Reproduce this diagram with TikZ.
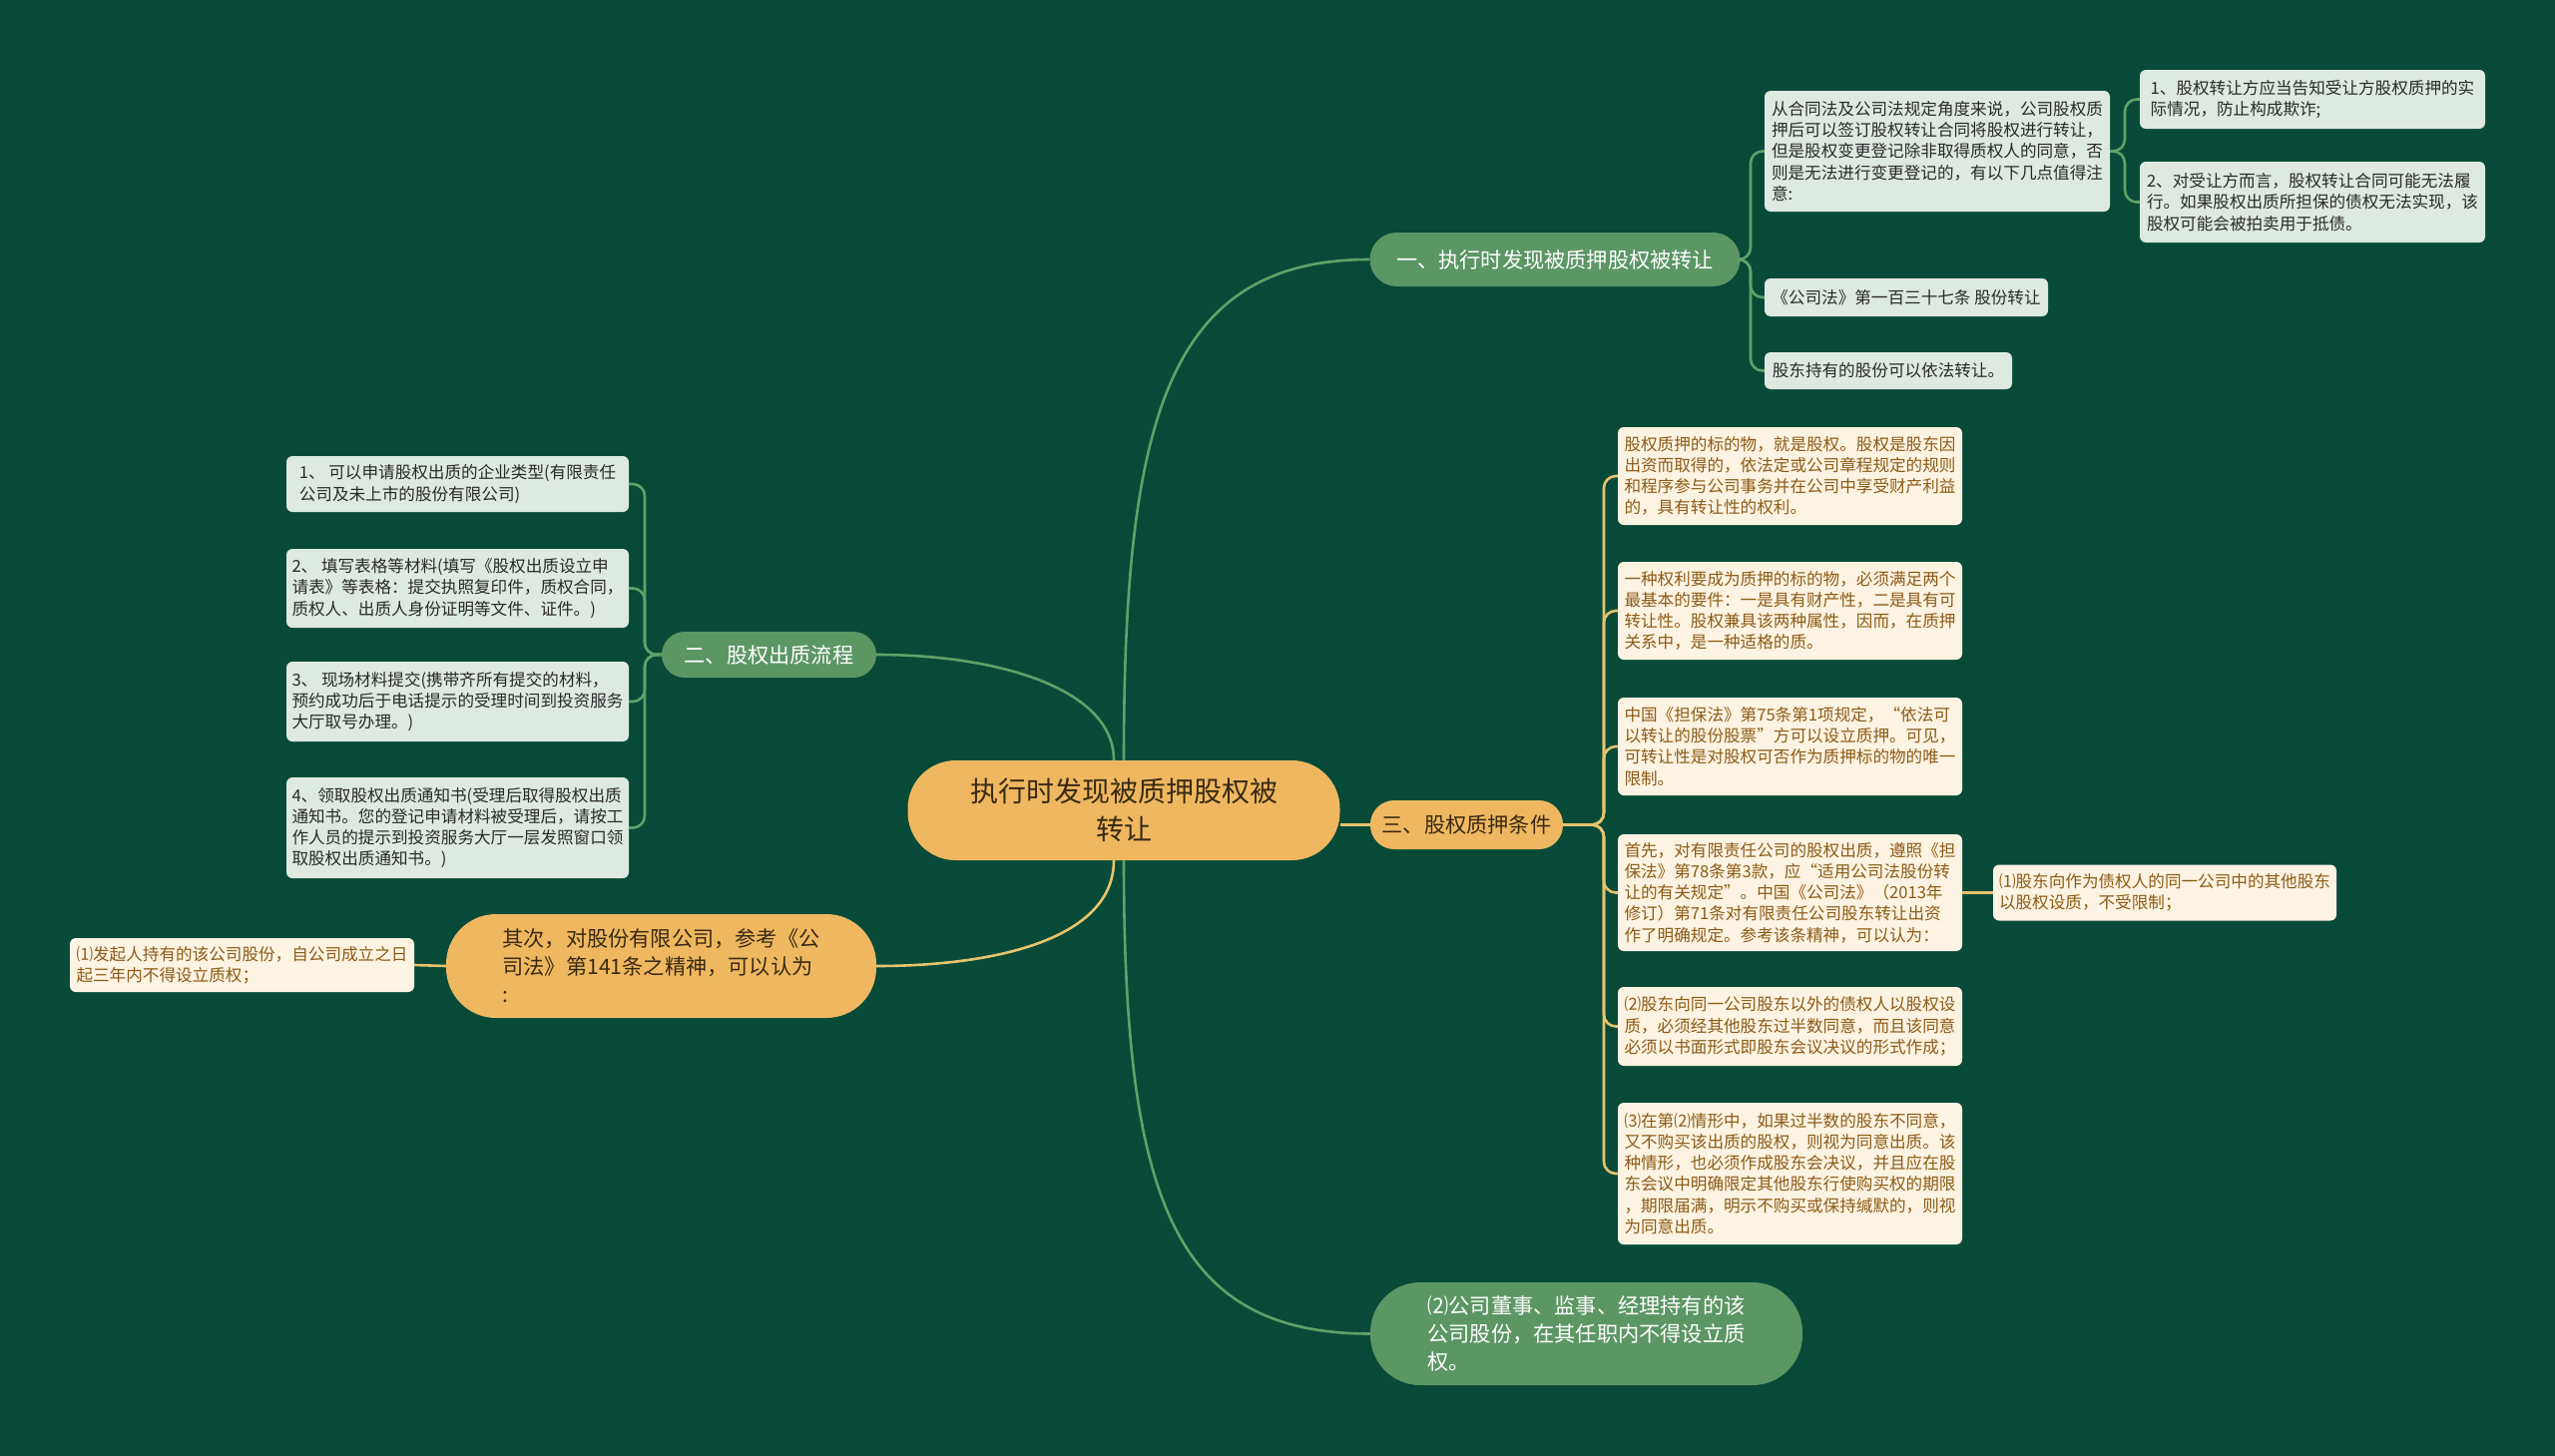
\documentclass[tikz,border=0pt]{standalone}
\usepackage{fontspec}
\setmainfont{Noto Sans CJK SC}
\definecolor{bgc}{HTML}{084A38}
\definecolor{gpc}{HTML}{5B9663}
\definecolor{opc}{HTML}{EFB860}
\definecolor{lgc}{HTML}{DEE9E1}
\definecolor{crc}{HTML}{FDF3E2}
\definecolor{brc}{HTML}{8C5B17}
\definecolor{dkc}{HTML}{2A2A2A}
\definecolor{dko}{HTML}{3A2A12}
\definecolor{cgc}{HTML}{5FA269}
\definecolor{cyc}{HTML}{E6C46C}
\newcommand\fsS{\fontsize{16.6pt}{21.2pt}\selectfont}
\newcommand\fsM{\fontsize{21.2pt}{28pt}\selectfont}
\newcommand\fsL{\fontsize{28pt}{37.5pt}\selectfont}
\begin{document}
\begin{tikzpicture}[x=1pt,y=-1pt,
  conng/.style={draw=cgc, line width=2.6pt, rounded corners=12pt},
  conny/.style={draw=cyc, line width=2.6pt, rounded corners=12pt},
  lbox/.style={fill=lgc, text=dkc, rounded corners=6pt, align=left, inner sep=0pt, font=\fsS},
  cbox/.style={fill=crc, text=brc, rounded corners=6pt, align=left, inner sep=0pt, font=\fsS},
  gpill/.style={fill=gpc, text=white, inner sep=0pt, font=\fsM},
  opill/.style={fill=opc, text=dko, inner sep=0pt, font=\fsM}
]
\useasboundingbox (0,0) rectangle (2560,1459);
\fill[bgc] (0,0) rectangle (2560,1459);

% central
\node[opill, minimum width=433pt, minimum height=100pt, rounded corners=48pt, font=\fsL, align=center] (root) at (1126,812) {执行时发现被质押股权被\\转让};

% branch 1
\node[gpill, minimum width=371pt, minimum height=54pt, rounded corners=27pt] (b1) at (1558,260) {一、执行时发现被质押股权被转让};
\node[lbox, minimum width=346pt, minimum height=121pt] (a) at (1941,151.5) {从合同法及公司法规定角度来说，公司股权质\\押后可以签订股权转让合同将股权进行转让，\\但是股权变更登记除非取得质权人的同意，否\\则是无法进行变更登记的，有以下几点值得注\\意:};
\node[lbox, minimum width=346pt, minimum height=59pt] (a1) at (2317,99.5) {1、股权转让方应当告知受让方股权质押的实\\际情况，防止构成欺诈;};
\node[lbox, minimum width=346pt, minimum height=81pt] (a2) at (2317,202.5) {2、对受让方而言，股权转让合同可能无法履\\行。如果股权出质所担保的债权无法实现，该\\股权可能会被拍卖用于抵债。};
\node[lbox, minimum width=284pt, minimum height=38pt] (bb) at (1910,298) {《公司法》第一百三十七条 股份转让};
\node[lbox, minimum width=248pt, minimum height=37pt] (cc) at (1892,371.5) {股东持有的股份可以依法转让。};

% branch 3
\node[opill, minimum width=193pt, minimum height=49pt, rounded corners=24pt] (b3) at (1469.5,826.5) {三、股权质押条件};
\node[cbox, minimum width=345pt, minimum height=98pt] (d1) at (1793.5,477) {股权质押的标的物，就是股权。股权是股东因\\出资而取得的，依法定或公司章程规定的规则\\和程序参与公司事务并在公司中享受财产利益\\的，具有转让性的权利。};
\node[cbox, minimum width=345pt, minimum height=98pt] (d2) at (1793.5,612) {一种权利要成为质押的标的物，必须满足两个\\最基本的要件：一是具有财产性，二是具有可\\转让性。股权兼具该两种属性，因而，在质押\\关系中，是一种适格的质。};
\node[cbox, minimum width=345pt, minimum height=98pt] (d3) at (1793.5,748) {中国《担保法》第75条第1项规定，“依法可\\以转让的股份股票”方可以设立质押。可见，\\可转让性是对股权可否作为质押标的物的唯一\\限制。};
\node[cbox, minimum width=345pt, minimum height=117pt] (d4) at (1793.5,894.5) {首先，对有限责任公司的股权出质，遵照《担\\保法》第78条第3款，应“适用公司法股份转\\让的有关规定”。中国《公司法》（2013年\\修订）第71条对有限责任公司股东转让出资\\作了明确规定。参考该条精神，可以认为：};
\node[cbox, minimum width=344pt, minimum height=56pt] (d4a) at (2169,894.5) {⑴股东向作为债权人的同一公司中的其他股东\\以股权设质，不受限制；};
\node[cbox, minimum width=345pt, minimum height=79pt] (d5) at (1793.5,1028.5) {⑵股东向同一公司股东以外的债权人以股权设\\质，必须经其他股东过半数同意，而且该同意\\必须以书面形式即股东会议决议的形式作成；};
\node[cbox, minimum width=345pt, minimum height=142pt] (d6) at (1793.5,1176) {⑶在第⑵情形中，如果过半数的股东不同意，\\又不购买该出质的股权，则视为同意出质。该\\种情形，也必须作成股东会决议，并且应在股\\东会议中明确限定其他股东行使购买权的期限\\，期限届满，明示不购买或保持缄默的，则视\\为同意出质。};

% branch 2
\node[gpill, minimum width=215pt, minimum height=46pt, rounded corners=23pt] (b2) at (770.5,656) {二、股权出质流程};
\node[lbox, minimum width=343pt, minimum height=56pt] (e1) at (458.5,485) {1、 可以申请股权出质的企业类型(有限责任\\公司及未上市的股份有限公司)};
\node[lbox, minimum width=343pt, minimum height=79pt] (e2) at (458.5,589.5) {2、 填写表格等材料(填写《股权出质设立申\\请表》等表格：提交执照复印件，质权合同，\\质权人、出质人身份证明等文件、证件。)};
\node[lbox, minimum width=343pt, minimum height=80pt] (e3) at (458.5,703) {3、 现场材料提交(携带齐所有提交的材料，\\预约成功后于电话提示的受理时间到投资服务\\大厅取号办理。)};
\node[lbox, minimum width=343pt, minimum height=101pt] (e4) at (458.5,829.5) {4、领取股权出质通知书(受理后取得股权出质\\通知书。您的登记申请材料被受理后，请按工\\作人员的提示到投资服务大厅一层发照窗口领\\取股权出质通知书。)};

% qici
\node[opill, minimum width=431pt, minimum height=104pt, rounded corners=50pt, align=left] (qc) at (662.5,968) {其次，对股份有限公司，参考《公\\司法》第141条之精神，可以认为\\:};
\node[cbox, minimum width=345pt, minimum height=54pt] (f) at (242.5,967) {⑴发起人持有的该公司股份，自公司成立之日\\起三年内不得设立质权；};

% bottom
\node[gpill, minimum width=433pt, minimum height=103pt, rounded corners=50pt, align=left] (bt) at (1589.5,1336.5) {⑵公司董事、监事、经理持有的该\\公司股份，在其任职内不得设立质\\权。};

% connectors from root
\draw[conng] (root.north) .. controls (1126,420) and (1170,260) .. (b1.west);
\draw[conng] (root.south) .. controls (1126,1200) and (1175,1336.5) .. (bt.west);
\draw[conng] (b2.east) .. controls (1000,656) and (1116,690) .. ([xshift=-10pt]root.north);
\draw[conny] ([xshift=-10pt]root.south) .. controls (1116,940) and (1000,968) .. (qc.east);
\draw[conny] (b3.west -| root.east) -- (b3.west);

% branch 1 children
\draw[conng] (b1.east) -- (1754,260) |- (a.west);
\draw[conng] (b1.east) -- (1754,260) |- (bb.west);
\draw[conng] (b1.east) -- (1754,260) |- (cc.west);
\draw[conng] (a.east) -- (2129,151.5) |- (a1.west);
\draw[conng] (a.east) -- (2129,151.5) |- (a2.west);

% branch 3 children
\draw[conny] (b3.east) -- (1607,826.5) |- (d1.west);
\draw[conny] (b3.east) -- (1607,826.5) |- (d2.west);
\draw[conny] (b3.east) -- (1607,826.5) |- (d3.west);
\draw[conny] (b3.east) -- (1607,826.5) |- (d4.west);
\draw[conny] (b3.east) -- (1607,826.5) |- (d5.west);
\draw[conny] (b3.east) -- (1607,826.5) |- (d6.west);
\draw[conny] (d4.east) -- (d4a.west);

% branch 2 children
\draw[conng] (b2.west) -- (646,656) |- (e1.east);
\draw[conng] (b2.west) -- (646,656) |- (e2.east);
\draw[conng] (b2.west) -- (646,656) |- (e3.east);
\draw[conng] (b2.west) -- (646,656) |- (e4.east);

% qici child
\draw[conny] (qc.west) -- (f.east);
\end{tikzpicture}
\end{document}
